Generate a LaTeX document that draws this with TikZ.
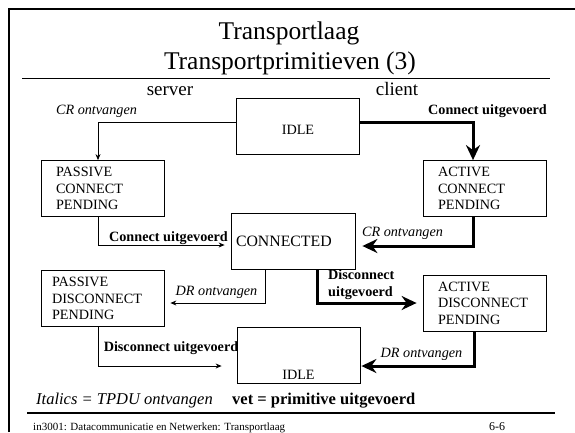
\documentclass[tikz,border=0pt]{standalone}
\usepackage{fontspec}
\setmainfont{Liberation Serif}
\usepackage{tikz}
\usetikzlibrary{arrows.meta, positioning}
\newcommand{\boxfont}{\fontsize{14.2}{16.5}\selectfont}
\tikzset{
  statebox/.style={rectangle, draw=black, line width=0.8pt, minimum width=123pt, minimum height=56pt, font=\boxfont, align=center},
  pendbox/.style={statebox, text width=93pt, inner xsep=15pt, align=left},
  recvlabel/.style={font=\itshape\boxfont, inner sep=1pt},
  execlabel/.style={font=\bfseries\boxfont, align=left, inner sep=1pt},
  thinarrow/.style={-{Stealth[length=6pt, width=5pt]}, line width=0.8pt},
  thickarrow/.style={-{Stealth[length=15pt, width=14pt, inset=5pt]}, line width=3pt},
  legendtext/.style={font=\fontsize{16.5}{19}\selectfont, inner sep=0pt}
}
\begin{document}
\begin{tikzpicture}[x=1pt, y=-1pt]
  \useasboundingbox (0,0) rectangle (575,432);
  % slide frame and rules
  \draw[line width=2pt] (9,432) -- (9,9) -- (575,9);
  \draw[line width=1.5pt] (22,78.5) -- (550,78.5);
  \draw[line width=2pt] (27,413) -- (555,413);

  % title
  \node[anchor=base, font=\fontsize{25.5}{28}\selectfont, inner sep=0pt] (title1) at (289,39) {Transportlaag};
  \node[anchor=base, font=\fontsize{25.5}{28}\selectfont, inner sep=0pt] (title2) at (290,69) {Transportprimitieven (3)};
  \node[anchor=base, font=\fontsize{19}{22}\selectfont, inner sep=0pt] (server) at (170,95) {server};
  \node[anchor=base, font=\fontsize{19}{22}\selectfont, inner sep=0pt] (client) at (397,95) {client};

  % states
  \node[statebox, text height=17.5pt] (idleA) at (298,126) {IDLE};
  \node[pendbox] (pcp) at (102.5,188.5) {PASSIVE\\CONNECT\\PENDING};
  \node[pendbox] (acp) at (484.5,188.5) {ACTIVE\\CONNECT\\PENDING};
  \node[statebox, minimum width=124pt, text width=114pt, inner xsep=5pt, align=left, font=\fontsize{15.8}{18}\selectfont] (conn) at (293,241) {CONNECTED};
  \node[pendbox, inner xsep=11pt, text width=101pt] (pdp) at (102.5,298.5) {PASSIVE\\DISCONNECT\\PENDING};
  \node[pendbox] (adp) at (484.5,303) {ACTIVE\\DISCONNECT\\PENDING};
  \node[statebox, text height=50pt, inner ysep=2pt] (idleB) at (298.5,355) {IDLE};

  % transitions
  \draw[thinarrow] ([yshift=4pt]idleA.west) -| ([xshift=-4.5pt]pcp.north);
  \draw[thickarrow] ([yshift=4pt]idleA.east) -| ([xshift=-11.5pt]acp.north);
  \draw[thinarrow, shorten >=6pt] ([xshift=-4.5pt]pcp.south) |- ([yshift=-4pt]conn.west);
  \draw[thickarrow, shorten >=7pt] ([xshift=-11.5pt]acp.south) |- ([yshift=-5pt]conn.east);
  \draw[thinarrow, shorten >=6pt] ([xshift=-28pt]conn.south) |- ([yshift=-4.5pt]pdp.east);
  \draw[thickarrow, shorten >=6pt] ([xshift=24pt]conn.south) |- (adp.west);
  \draw[thinarrow, shorten >=15pt] ([xshift=-4.5pt]pdp.south) |- ([yshift=-11pt]idleB.west);
  \draw[thickarrow, shorten >=1pt] ([xshift=-10.5pt]adp.south) |- ([yshift=-11pt]idleB.east);

  % transition labels
  \node[recvlabel] (crA) at (96.5,111) {CR ontvangen};
  \node[execlabel] (conA) at (487.5,111) {Connect uitgevoerd};
  \node[execlabel] (conB) at (168.5,238) {Connect uitgevoerd};
  \node[recvlabel] (crB) at (402.5,233) {CR ontvangen};
  \node[recvlabel] (drA) at (216.5,292) {DR ontvangen};
  \node[execlabel, anchor=west] (disA) at (327,284.5) {Disconnect\\uitgevoerd};
  \node[execlabel] (disB) at (171,348) {Disconnect uitgevoerd};
  \node[recvlabel] (drB) at (421.5,354) {DR ontvangen};

  % legend and footer
  \node[legendtext, anchor=base west, font=\itshape\fontsize{16.5}{19}\selectfont] (legRecv) at (36,404) {Italics = TPDU ontvangen};
  \node[legendtext, anchor=base west, font=\bfseries\fontsize{16.5}{19}\selectfont] (legExec) at (232,404) {vet = primitive uitgevoerd};
  \node[anchor=base west, font=\fontsize{11}{13}\selectfont, inner sep=0pt] (footer) at (33,430) {in3001: Datacommunicatie en Netwerken: Transportlaag};
  \node[anchor=base, font=\fontsize{12}{14}\selectfont, inner sep=0pt] (slideno) at (497,430) {6-6};
\end{tikzpicture}
\end{document}
